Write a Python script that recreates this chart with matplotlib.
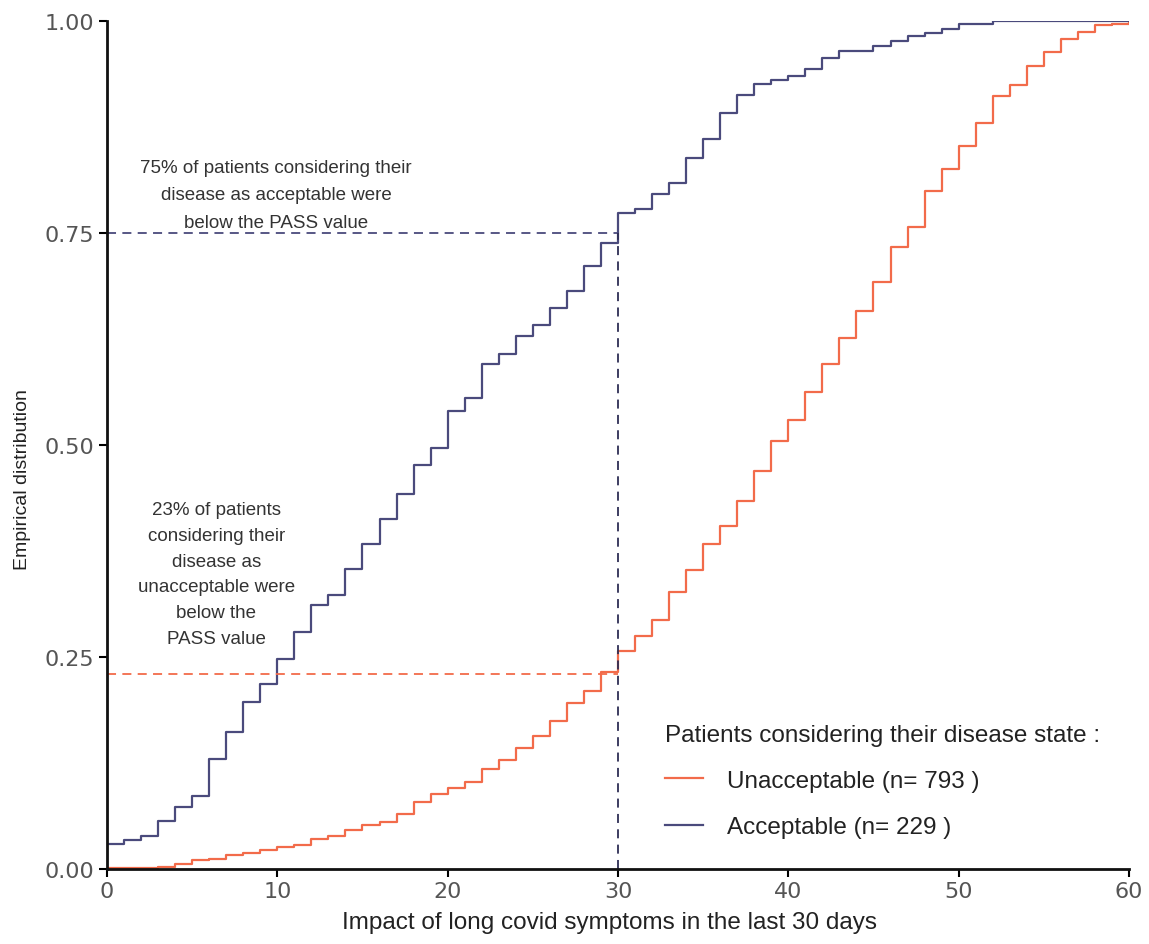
import numpy as np
import matplotlib
matplotlib.use("Agg")
import matplotlib.pyplot as plt

plt.rcParams["font.family"] = ["Liberation Sans", "DejaVu Sans"]

# Impact score (0-60), cumulative share of patients at each score
score = np.arange(0, 61)

acceptable = [
    0.030, 0.034, 0.039, 0.056, 0.073, 0.086, 0.130, 0.161, 0.197, 0.218,
    0.248, 0.279, 0.311, 0.323, 0.354, 0.383, 0.413, 0.442, 0.476, 0.497,
    0.540, 0.555, 0.595, 0.607, 0.629, 0.642, 0.662, 0.682, 0.711, 0.738,
    0.774, 0.778, 0.796, 0.809, 0.838, 0.861, 0.892, 0.913, 0.926, 0.931,
    0.935, 0.944, 0.956, 0.965, 0.965, 0.970, 0.977, 0.982, 0.986, 0.991,
    0.996, 0.996, 1.000, 1.000, 1.000, 1.000, 1.000, 1.000, 1.000, 1.000,
    1.000,
]

unacceptable = [
    0.001, 0.001, 0.001, 0.002, 0.006, 0.010, 0.012, 0.017, 0.019, 0.022,
    0.026, 0.028, 0.035, 0.039, 0.046, 0.052, 0.055, 0.065, 0.079, 0.088,
    0.096, 0.102, 0.118, 0.129, 0.143, 0.157, 0.174, 0.196, 0.210, 0.232,
    0.257, 0.275, 0.294, 0.327, 0.353, 0.383, 0.405, 0.434, 0.469, 0.505,
    0.529, 0.563, 0.596, 0.626, 0.658, 0.692, 0.733, 0.757, 0.800, 0.825,
    0.853, 0.880, 0.912, 0.925, 0.947, 0.964, 0.979, 0.987, 0.995, 0.997,
    1.000,
]

n_unacc = 793
n_acc = 229
pass_value = 30
share_acc = 0.75
share_unacc = 0.23

red = "#f26b4a"
blue = "#4a4a7c"
tick_grey = "#555555"
text_col = "#222222"

fig = plt.figure(figsize=(11.49, 9.45), dpi=100)
ax = fig.add_axes([0.0931, 0.0794, 0.8895, 0.8973])

ax.step(score, unacceptable, where="post", color=red, lw=1.6,
        label=f"Unacceptable (n= {n_unacc} )")
ax.step(score, acceptable, where="post", color=blue, lw=1.6,
        label=f"Acceptable (n= {n_acc} )")

# PASS reference lines
dash = (0, (5, 3.5))
ax.plot([0, pass_value], [share_acc, share_acc], ls=dash, color=blue, lw=1.3)
ax.plot([0, pass_value], [share_unacc, share_unacc], ls=dash, color=red, lw=1.3)
ax.plot([pass_value, pass_value], [0, share_acc], ls=dash, color="#2e2e55", lw=1.3)

ax.text(9.93, 0.795, "75% of patients considering their\ndisease as acceptable were\nbelow the PASS value",
        ha="center", va="center", fontsize=13.5, color="#333333", linespacing=1.8)
ax.text(6.42, 0.348, "23% of patients\nconsidering their\ndisease as\nunacceptable were\nbelow the\nPASS value",
        ha="center", va="center", fontsize=13.5, color="#333333", linespacing=1.67)

ax.set_xlim(0, 60)
ax.set_ylim(0, 1)
ax.set_xticks(range(0, 61, 10))
ax.set_yticks([0, 0.25, 0.5, 0.75, 1.0])
ax.set_yticklabels(["0.00", "0.25", "0.50", "0.75", "1.00"])
ax.tick_params(axis="both", direction="out", length=6, width=1.5, labelsize=16,
               labelcolor=tick_grey, pad=3)
for lab in ax.get_xticklabels() + ax.get_yticklabels():
    lab.set_family(["DejaVu Sans"])
for side in ["top", "right"]:
    ax.spines[side].set_visible(False)
for side in ["left", "bottom"]:
    ax.spines[side].set_linewidth(2)
    ax.spines[side].set_color("#111111")

ax.set_xlabel("Impact of long covid symptoms in the last 30 days", fontsize=17.5, color=text_col)
ax.xaxis.set_label_coords(0.492, -0.05)
ax.set_ylabel("Empirical distribution", fontsize=14, color=text_col)
ax.yaxis.set_label_coords(-0.074, 0.46)

leg = ax.legend(title="Patients considering their disease state :", loc="upper left",
                bbox_to_anchor=(0.5788, 0.2329), bbox_transform=fig.transFigure,
                frameon=False, fontsize=17.5, title_fontsize=17.5, handlelength=1.56,
                handletextpad=1.0, labelspacing=0.99, borderpad=0, borderaxespad=0,
                alignment="left")
for t in leg.get_texts():
    t.set_color(text_col)
leg.get_title().set_color(text_col)

fig.savefig("out.png", dpi=100)
